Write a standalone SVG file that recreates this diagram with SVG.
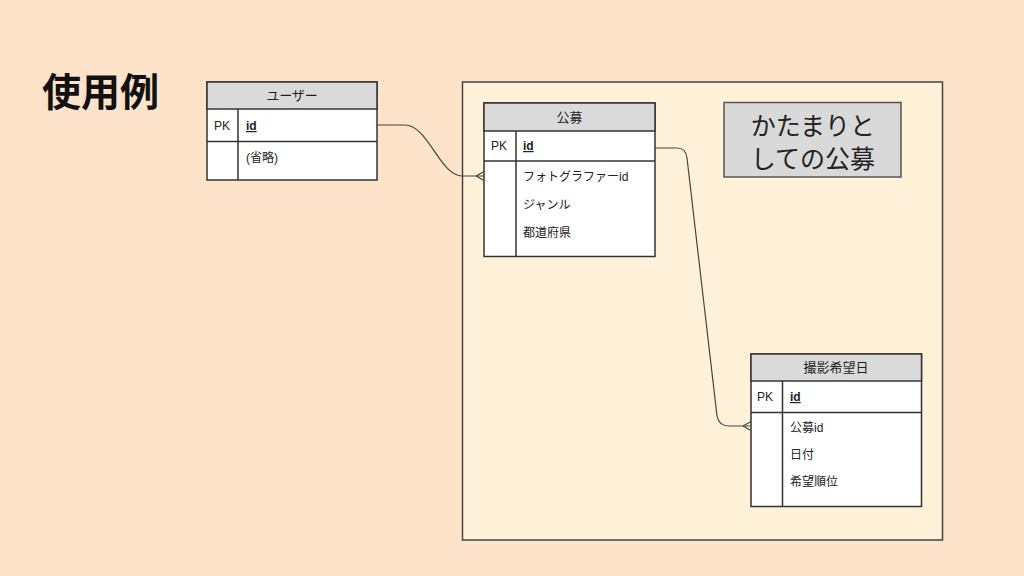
<svg xmlns="http://www.w3.org/2000/svg" width="1024" height="576" viewBox="0 0 1024 576">
<style>
.t{font-family:"Liberation Sans","Noto Sans CJK JP",sans-serif;fill:#222}
.f{font-size:12px}
.h{font-size:13px;text-anchor:middle}
.b{fill:#fff;stroke:#333;stroke-width:1.5}
.hd{fill:#dadada;stroke:#333;stroke-width:1.5}
.ln{stroke:#333;stroke-width:1.5;fill:none}
.c{stroke:#444;stroke-width:1.2;fill:none}
.id{font-weight:bold;text-decoration:underline}
.lb{font-size:25px;text-anchor:middle;font-family:"Noto Sans CJK JP",sans-serif}
</style>
<rect width="1024" height="576" fill="#fde3c9"/>
<text class="t" x="42" y="106" style="font-size:39px;font-weight:bold;fill:#111">使用例</text>
<g id="container">
<rect x="462.5" y="82" width="480" height="458" fill="#fff2d8" stroke="#444" stroke-width="1.5"/>
</g>
<g id="label">
<rect x="724" y="102.5" width="177" height="74.5" fill="#d9d9d9" stroke="#555" stroke-width="1.5"/>
<text class="t lb" x="813" y="135">かたまりと</text>
<text class="t lb" x="813" y="168">しての公募</text>
</g>
<g id="user">
<rect class="b" x="207" y="82" width="170" height="98"/>
<rect class="hd" x="207" y="82" width="170" height="27"/>
<line class="ln" x1="207" y1="141.5" x2="377" y2="141.5"/>
<line class="ln" x1="238" y1="109" x2="238" y2="180"/>
<text class="t h" x="292" y="100">ユーザー</text>
<text class="t f" x="214" y="130">PK</text>
<text class="t f id" x="246" y="130">id</text>
<text class="t f" x="246" y="162">(省略)</text>
</g>
<g id="boshu">
<rect class="b" x="484" y="103" width="171" height="153.5"/>
<rect class="hd" x="484" y="103" width="171" height="28"/>
<line class="ln" x1="484" y1="161" x2="655" y2="161"/>
<line class="ln" x1="516" y1="131" x2="516" y2="256.5"/>
<text class="t h" x="569.5" y="122">公募</text>
<text class="t f" x="491" y="150">PK</text>
<text class="t f id" x="523" y="150">id</text>
<text class="t f" x="523" y="181">フォトグラファーid</text>
<text class="t f" x="523" y="209">ジャンル</text>
<text class="t f" x="523" y="237">都道府県</text>
</g>
<g id="satsuei">
<rect class="b" x="751" y="354" width="170.5" height="152.5"/>
<rect class="hd" x="751" y="354" width="170.5" height="27"/>
<line class="ln" x1="751" y1="412.5" x2="921.5" y2="412.5"/>
<line class="ln" x1="782.5" y1="381" x2="782.5" y2="506.5"/>
<text class="t h" x="836" y="372">撮影希望日</text>
<text class="t f" x="757" y="401">PK</text>
<text class="t f id" x="790" y="401">id</text>
<text class="t f" x="790" y="432">公募id</text>
<text class="t f" x="790" y="459">日付</text>
<text class="t f" x="790" y="486">希望順位</text>
</g>
<g id="connectors">
<path class="c" d="M377,125 L405,125 C428,125 440,176 462,176 L484,176"/>
<path class="c" d="M476,176 L484,171.5 M476,176 L484,180.5"/>
<path class="c" d="M655,148 L677,148 Q686,148 687,158 L717,416 Q719,426 729,426 L751,426"/>
<path class="c" d="M743,426 L751,421.5 M743,426 L751,430.5"/>
</g>
</svg>
